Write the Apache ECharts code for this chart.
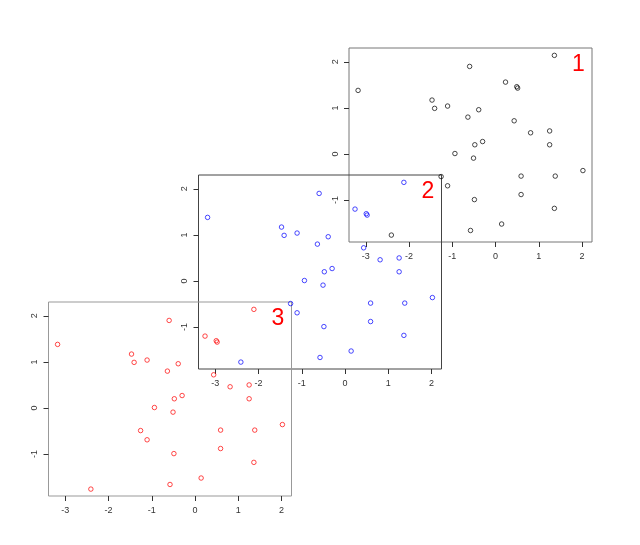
<!DOCTYPE html>
<html>
<head>
<meta charset="utf-8">
<script src="https://cdn.jsdelivr.net/npm/echarts@6/dist/echarts.min.js"></script>
<style>
  html, body { margin: 0; padding: 0; background: #fff; }
  #chart { width: 640px; height: 545px; }
</style>
</head>
<body>
<div id="chart"></div>
<script>
// same 30 points drawn in each of the three panels
var xVals = [1.36, -0.60, -3.18, 0.23, 0.49, 0.51, -1.47, -1.41, -1.11, -0.39,
  -0.64, 0.43, 0.81, 1.25, 1.25, -0.30, -0.48, -0.94, -0.51, -1.26,
  -1.11, 0.59, 1.38, 2.02, 0.59, -0.49, 1.36, 0.14, -0.58, -2.41];
var yVals = [2.14, 1.90, 1.38, 1.56, 1.46, 1.43, 1.17, 0.99, 1.04, 0.96,
  0.80, 0.72, 0.46, 0.50, 0.20, 0.27, 0.20, 0.01, -0.09, -0.49,
  -0.69, -0.48, -0.48, -0.36, -0.88, -0.99, -1.18, -1.52, -1.66, -1.76];
var xTicks = [-3, -2, -1, 0, 1, 2];
var yTicks = [-1, 0, 1, 2];
var panelNames = ['1', '2', '3'];
var pointColors = ['#000000', '#0000ff', '#ff0000'];

(function () {
  var myChart = echarts.init(document.getElementById('chart'))
  var font = '"Liberation Sans", Arial, sans-serif'

  // panel boxes, top-right one first
  var boxes = [
    { left: 349, top: 48, border: '#777' },
    { left: 198.5, top: 175, border: '#444' },
    { left: 48.5, top: 302, border: '#999' }
  ]
  var boxW = 243, boxH = 194

  var points = xVals.map(function (x, i) { return [x, yVals[i]] })

  var grid = [], xAxis = [], yAxis = [], series = [], graphic = []
  boxes.forEach(function (b, i) {
    grid.push({
      left: b.left, top: b.top, width: boxW, height: boxH,
      show: true, borderColor: b.border, borderWidth: 1,
      backgroundColor: 'transparent', containLabel: false
    })
    xAxis.push({
      gridIndex: i, type: 'value', min: -3.39, max: 2.23, position: 'bottom',
      axisLine: { show: false, onZero: false },
      splitLine: { show: false },
      axisTick: { show: true, inside: false, length: 5, customValues: xTicks,
        lineStyle: { color: '#333', width: 1 } },
      axisLabel: { customValues: xTicks, margin: 10, color: '#333',
        fontSize: 9, fontFamily: font }
    })
    yAxis.push({
      gridIndex: i, type: 'value', min: -1.91, max: 2.30, position: 'left',
      axisLine: { show: false, onZero: false },
      splitLine: { show: false },
      axisTick: { show: true, inside: false, length: 5, customValues: yTicks,
        lineStyle: { color: '#333', width: 1 } },
      axisLabel: { customValues: yTicks, margin: 9, rotate: 90, color: '#333',
        fontSize: 9, fontFamily: font }
    })
    series.push({
      type: 'scatter', xAxisIndex: i, yAxisIndex: i,
      data: points, symbol: 'circle', symbolSize: 4.5,
      itemStyle: { color: 'transparent', borderColor: pointColors[i], borderWidth: 0.9 },
      emphasis: { disabled: true }
    })
    graphic.push({
      type: 'text', left: b.left + boxW - 20, top: b.top + 5,
      style: { text: panelNames[i], fill: '#ff0000', fontSize: 23, fontFamily: font }
    })
  })

  var option = {
    animation: false,
    grid: grid,
    xAxis: xAxis,
    yAxis: yAxis,
    series: series,
    graphic: graphic
  }
  myChart.setOption(option)
})();
</script>
</body>
</html>
